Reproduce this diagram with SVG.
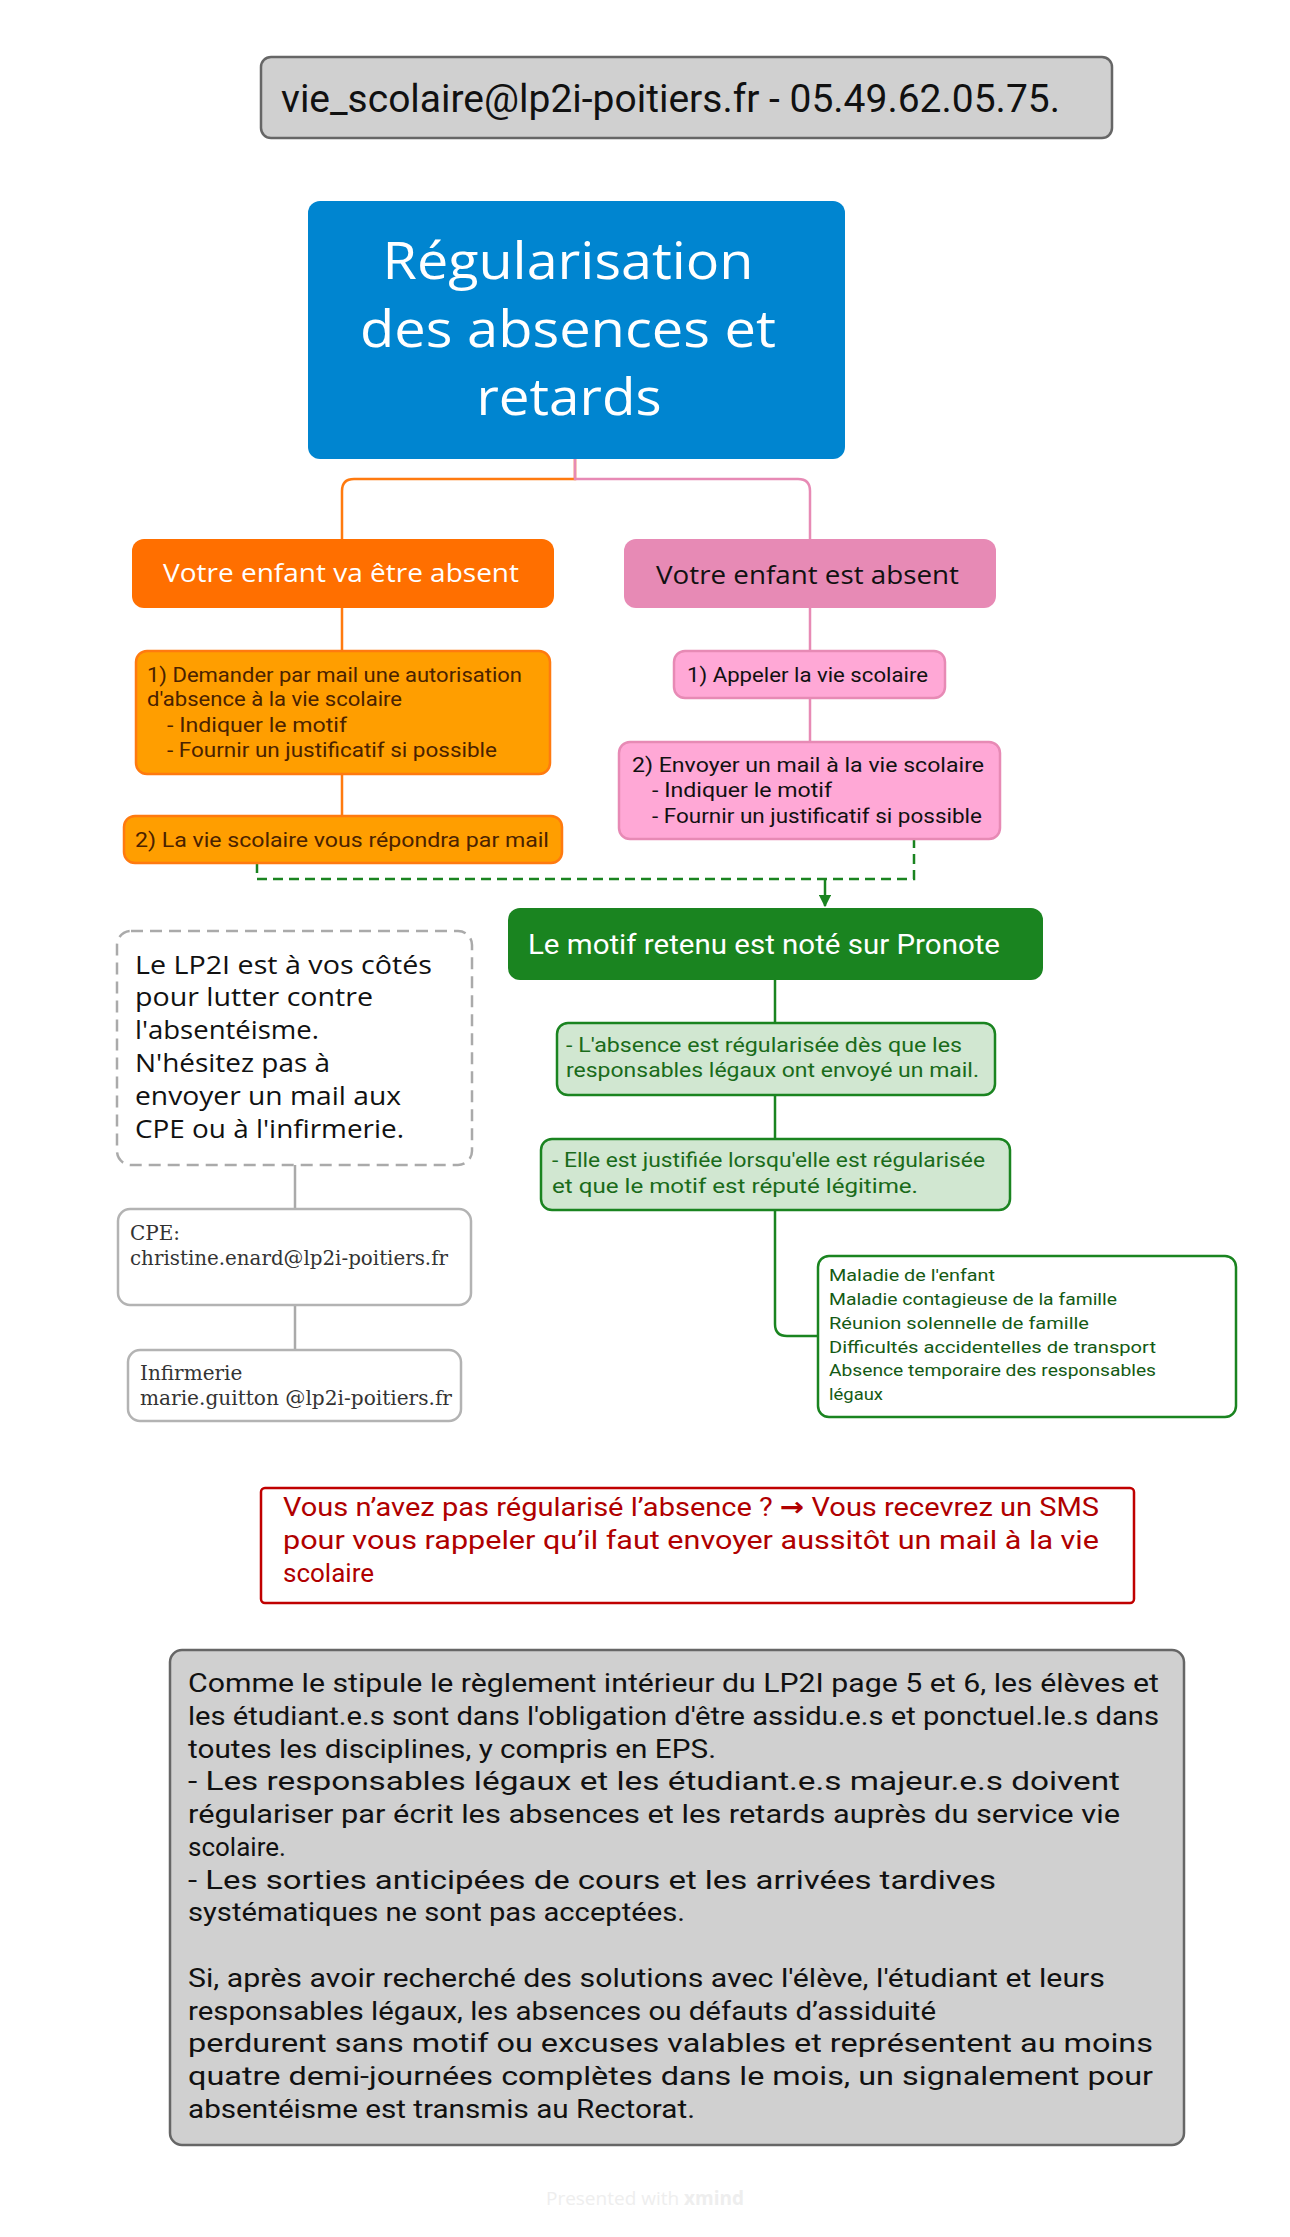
<svg xmlns="http://www.w3.org/2000/svg" width="1290" height="2237" viewBox="0 0 1290 2237">
<style>
.sans{font-family:"Open Sans","Noto Sans","Liberation Sans",sans-serif}
.cond{font-family:Roboto,"Liberation Sans",sans-serif}
.serif{font-family:"DejaVu Serif","Liberation Serif",serif}
.conn{fill:none;stroke-width:2.5}
</style>
<defs>
<marker id="arr" viewBox="0 0 10 10" refX="9" refY="5" markerWidth="5" markerHeight="5" orient="auto"><path d="M0,0 L10,5 L0,10 z" fill="#1A8420"/></marker>
</defs>
<rect width="1290" height="2237" fill="#ffffff"/>

<g id="connectors">
<path class="conn" stroke="#FF7A0F" d="M575,459 V479 H354 Q342,479 342,491 V539"/>
<path class="conn" stroke="#E78AB5" d="M575,459 V479 H798 Q810,479 810,491 V539"/>
<path class="conn" stroke="#FF7A0F" d="M342,608 V651 M342,774 V816"/>
<path class="conn" stroke="#E78AB5" d="M810,608 V651 M810,698 V742"/>
<path class="conn" stroke="#1A8420" stroke-dasharray="10,6" d="M257,863 V879 H914 V839"/>
<path class="conn" stroke="#1A8420" d="M825,879 V906" marker-end="url(#arr)"/>
<path class="conn" stroke="#1A8420" d="M775,980 V1023 M775,1095 V1139 M775,1210 V1324 Q775,1336 787,1336 H818"/>
<path class="conn" stroke="#AAAAAA" d="M295,1156 V1209 M295,1305 V1350"/>
</g>

<g id="contact">
<rect x="261" y="57" width="851" height="81" rx="10" fill="#D0D0D0" stroke="#666666" stroke-width="2.5"/>
<text class="cond" x="281" y="112" font-size="38" fill="#111" textLength="779" lengthAdjust="spacingAndGlyphs">vie_scolaire@lp2i-poitiers.fr  -  05.49.62.05.75.</text>
</g>

<g id="title">
<rect x="308" y="201" width="537" height="258" rx="12" fill="#0085D0"/>
<g class="sans" font-size="52" fill="#ffffff" text-anchor="middle">
<text x="568" y="279" textLength="371" lengthAdjust="spacingAndGlyphs">Régularisation</text>
<text x="568" y="347" textLength="416" lengthAdjust="spacingAndGlyphs">des absences et</text>
<text x="569" y="415" textLength="185" lengthAdjust="spacingAndGlyphs">retards</text>
</g>
</g>

<g id="orange-head">
<rect x="132" y="539" width="422" height="69" rx="12" fill="#FF6F00"/>
<text class="sans" x="163" y="582" font-size="26" fill="#ffffff" textLength="356" lengthAdjust="spacingAndGlyphs">Votre enfant va être absent</text>
</g>
<g id="orange-step1">
<rect x="136" y="651" width="414" height="123" rx="11" fill="#FF9E00" stroke="#FF7A0F" stroke-width="2.5"/>
<g class="cond" font-size="20" fill="#4A2200">
<text x="147" y="682" textLength="375" lengthAdjust="spacingAndGlyphs">1) Demander par mail une autorisation</text>
<text x="147" y="706" textLength="255" lengthAdjust="spacingAndGlyphs">d'absence à la vie scolaire</text>
<text x="167" y="732" textLength="180" lengthAdjust="spacingAndGlyphs">- Indiquer le motif</text>
<text x="167" y="757" textLength="330" lengthAdjust="spacingAndGlyphs">- Fournir un justificatif si possible</text>
</g>
</g>
<g id="orange-step2">
<rect x="124" y="816" width="438" height="47" rx="11" fill="#FF9E00" stroke="#FF7A0F" stroke-width="2.5"/>
<text class="cond" x="135" y="847" font-size="20" fill="#4A2200" textLength="414" lengthAdjust="spacingAndGlyphs">2) La vie scolaire vous répondra par mail</text>
</g>

<g id="pink-head">
<rect x="624" y="539" width="372" height="69" rx="12" fill="#E78AB5"/>
<text class="sans" x="656" y="584" font-size="26" fill="#111" textLength="303" lengthAdjust="spacingAndGlyphs">Votre enfant est absent</text>
</g>
<g id="pink-step1">
<rect x="674" y="651" width="271" height="47" rx="11" fill="#FFA8D6" stroke="#E78AB5" stroke-width="2.5"/>
<text class="cond" x="687" y="682" font-size="20" fill="#111" textLength="241" lengthAdjust="spacingAndGlyphs">1) Appeler la vie scolaire</text>
</g>
<g id="pink-step2">
<rect x="619" y="742" width="381" height="97" rx="11" fill="#FFA8D6" stroke="#E78AB5" stroke-width="2.5"/>
<g class="cond" font-size="20" fill="#111">
<text x="632" y="772" textLength="352" lengthAdjust="spacingAndGlyphs">2) Envoyer un mail à la vie scolaire</text>
<text x="652" y="797" textLength="180" lengthAdjust="spacingAndGlyphs">- Indiquer le motif</text>
<text x="652" y="823" textLength="330" lengthAdjust="spacingAndGlyphs">- Fournir un justificatif si possible</text>
</g>
</g>

<g id="green-head">
<rect x="508" y="908" width="535" height="72" rx="12" fill="#1A8420"/>
<text class="cond" x="528" y="954" font-size="27" fill="#ffffff" textLength="472" lengthAdjust="spacingAndGlyphs">Le motif retenu est noté sur Pronote</text>
</g>
<g id="green-box2">
<rect x="557" y="1023" width="438" height="72" rx="11" fill="#D1E7D1" stroke="#1A8420" stroke-width="2.5"/>
<g class="cond" font-size="20" fill="#1A6B1A">
<text x="566" y="1052" textLength="396" lengthAdjust="spacingAndGlyphs">- L'absence est régularisée dès que les</text>
<text x="566" y="1077" textLength="413" lengthAdjust="spacingAndGlyphs">responsables légaux ont envoyé un mail.</text>
</g>
</g>
<g id="green-box3">
<rect x="541" y="1139" width="469" height="71" rx="11" fill="#D1E7D1" stroke="#1A8420" stroke-width="2.5"/>
<g class="cond" font-size="20" fill="#1A6B1A">
<text x="552" y="1167" textLength="433" lengthAdjust="spacingAndGlyphs">- Elle est justifiée lorsqu'elle est régularisée</text>
<text x="552" y="1193" textLength="366" lengthAdjust="spacingAndGlyphs">et que le motif est réputé légitime.</text>
</g>
</g>
<g id="green-box4">
<rect x="818" y="1256" width="418" height="161" rx="11" fill="#ffffff" stroke="#1A8420" stroke-width="2.5"/>
<g class="cond" font-size="17" fill="#145A14">
<text x="829" y="1281" textLength="166" lengthAdjust="spacingAndGlyphs">Maladie de l'enfant</text>
<text x="829" y="1305" textLength="288" lengthAdjust="spacingAndGlyphs">Maladie contagieuse de la famille</text>
<text x="829" y="1329" textLength="260" lengthAdjust="spacingAndGlyphs">Réunion solennelle de famille</text>
<text x="829" y="1353" textLength="327" lengthAdjust="spacingAndGlyphs">Difficultés accidentelles de transport</text>
<text x="829" y="1376" textLength="327" lengthAdjust="spacingAndGlyphs">Absence temporaire des responsables</text>
<text x="829" y="1400" textLength="54" lengthAdjust="spacingAndGlyphs">légaux</text>
</g>
</g>

<g id="support">
<rect x="117" y="931" width="355" height="234" rx="14" fill="#ffffff" stroke="#AAAAAA" stroke-width="2.5" stroke-dasharray="12,7"/>
<g class="sans" font-size="25" fill="#111">
<text x="135" y="974" textLength="297" lengthAdjust="spacingAndGlyphs">Le LP2I est à vos côtés</text>
<text x="135" y="1006" textLength="238" lengthAdjust="spacingAndGlyphs">pour lutter contre</text>
<text x="135" y="1039" textLength="184" lengthAdjust="spacingAndGlyphs">l'absentéisme.</text>
<text x="135" y="1072" textLength="195" lengthAdjust="spacingAndGlyphs">N'hésitez pas à</text>
<text x="135" y="1105" textLength="266" lengthAdjust="spacingAndGlyphs">envoyer un mail aux</text>
<text x="135" y="1138" textLength="269" lengthAdjust="spacingAndGlyphs">CPE ou à l'infirmerie.</text>
</g>
</g>
<g id="cpe">
<rect x="118" y="1209" width="353" height="96" rx="12" fill="#ffffff" stroke="#B3B3B3" stroke-width="2.5"/>
<g class="serif" font-size="20" fill="#333">
<text x="130" y="1240">CPE:</text>
<text x="130" y="1265" textLength="318" lengthAdjust="spacingAndGlyphs">christine.enard@lp2i-poitiers.fr</text>
</g>
</g>
<g id="infirmerie">
<rect x="128" y="1350" width="333" height="71" rx="12" fill="#ffffff" stroke="#B3B3B3" stroke-width="2.5"/>
<g class="serif" font-size="20" fill="#333">
<text x="140" y="1380">Infirmerie</text>
<text x="140" y="1405" textLength="312" lengthAdjust="spacingAndGlyphs">marie.guitton @lp2i-poitiers.fr</text>
</g>
</g>

<g id="sms">
<rect x="261" y="1488" width="873" height="115" rx="4" fill="#ffffff" stroke="#C00000" stroke-width="2.5"/>
<g class="cond" font-size="26" fill="#B00000">
<text x="283" y="1516" textLength="816" lengthAdjust="spacingAndGlyphs">Vous n’avez pas régularisé l’absence ? <tspan font-family="DejaVu Sans" font-weight="bold">→</tspan> Vous recevrez un SMS</text>
<text x="283" y="1549" textLength="816" lengthAdjust="spacingAndGlyphs">pour vous rappeler qu’il faut envoyer aussitôt un mail à la vie</text>
<text x="283" y="1582">scolaire</text>
</g>
</g>

<g id="reglement">
<rect x="170" y="1650" width="1014" height="495" rx="12" fill="#D0D0D0" stroke="#666666" stroke-width="2.5"/>
<g class="cond" font-size="26" fill="#111">
<text x="188" y="1692" textLength="971" lengthAdjust="spacingAndGlyphs">Comme le stipule le règlement intérieur du LP2I page 5 et 6, les élèves et</text>
<text x="188" y="1725" textLength="971" lengthAdjust="spacingAndGlyphs">les étudiant.e.s sont dans l'obligation d'être assidu.e.s et ponctuel.le.s dans</text>
<text x="188" y="1758" textLength="528" lengthAdjust="spacingAndGlyphs">toutes les disciplines, y compris en EPS.</text>
<text x="188" y="1790" textLength="932" lengthAdjust="spacingAndGlyphs">- Les responsables légaux et les étudiant.e.s majeur.e.s doivent</text>
<text x="188" y="1823" textLength="932" lengthAdjust="spacingAndGlyphs">régulariser par écrit les absences et les retards auprès du service vie</text>
<text x="188" y="1856">scolaire.</text>
<text x="188" y="1889" textLength="808" lengthAdjust="spacingAndGlyphs">- Les sorties anticipées de cours et les arrivées tardives</text>
<text x="188" y="1921" textLength="497" lengthAdjust="spacingAndGlyphs">systématiques ne sont pas acceptées.</text>
<text x="188" y="1987" textLength="917" lengthAdjust="spacingAndGlyphs">Si, après avoir recherché des solutions avec l'élève, l'étudiant et leurs</text>
<text x="188" y="2020" textLength="748" lengthAdjust="spacingAndGlyphs">responsables légaux, les absences ou défauts d’assiduité</text>
<text x="188" y="2052" textLength="965" lengthAdjust="spacingAndGlyphs">perdurent sans motif ou excuses valables et représentent au moins</text>
<text x="188" y="2085" textLength="965" lengthAdjust="spacingAndGlyphs">quatre demi-journées complètes dans le mois, un signalement pour</text>
<text x="188" y="2118" textLength="507" lengthAdjust="spacingAndGlyphs">absentéisme est transmis au Rectorat.</text>
</g>
</g>

<text class="sans" x="645" y="2205" font-size="19" fill="#EEEEEE" text-anchor="middle">Presented with <tspan font-weight="bold">xmind</tspan></text>
</svg>
